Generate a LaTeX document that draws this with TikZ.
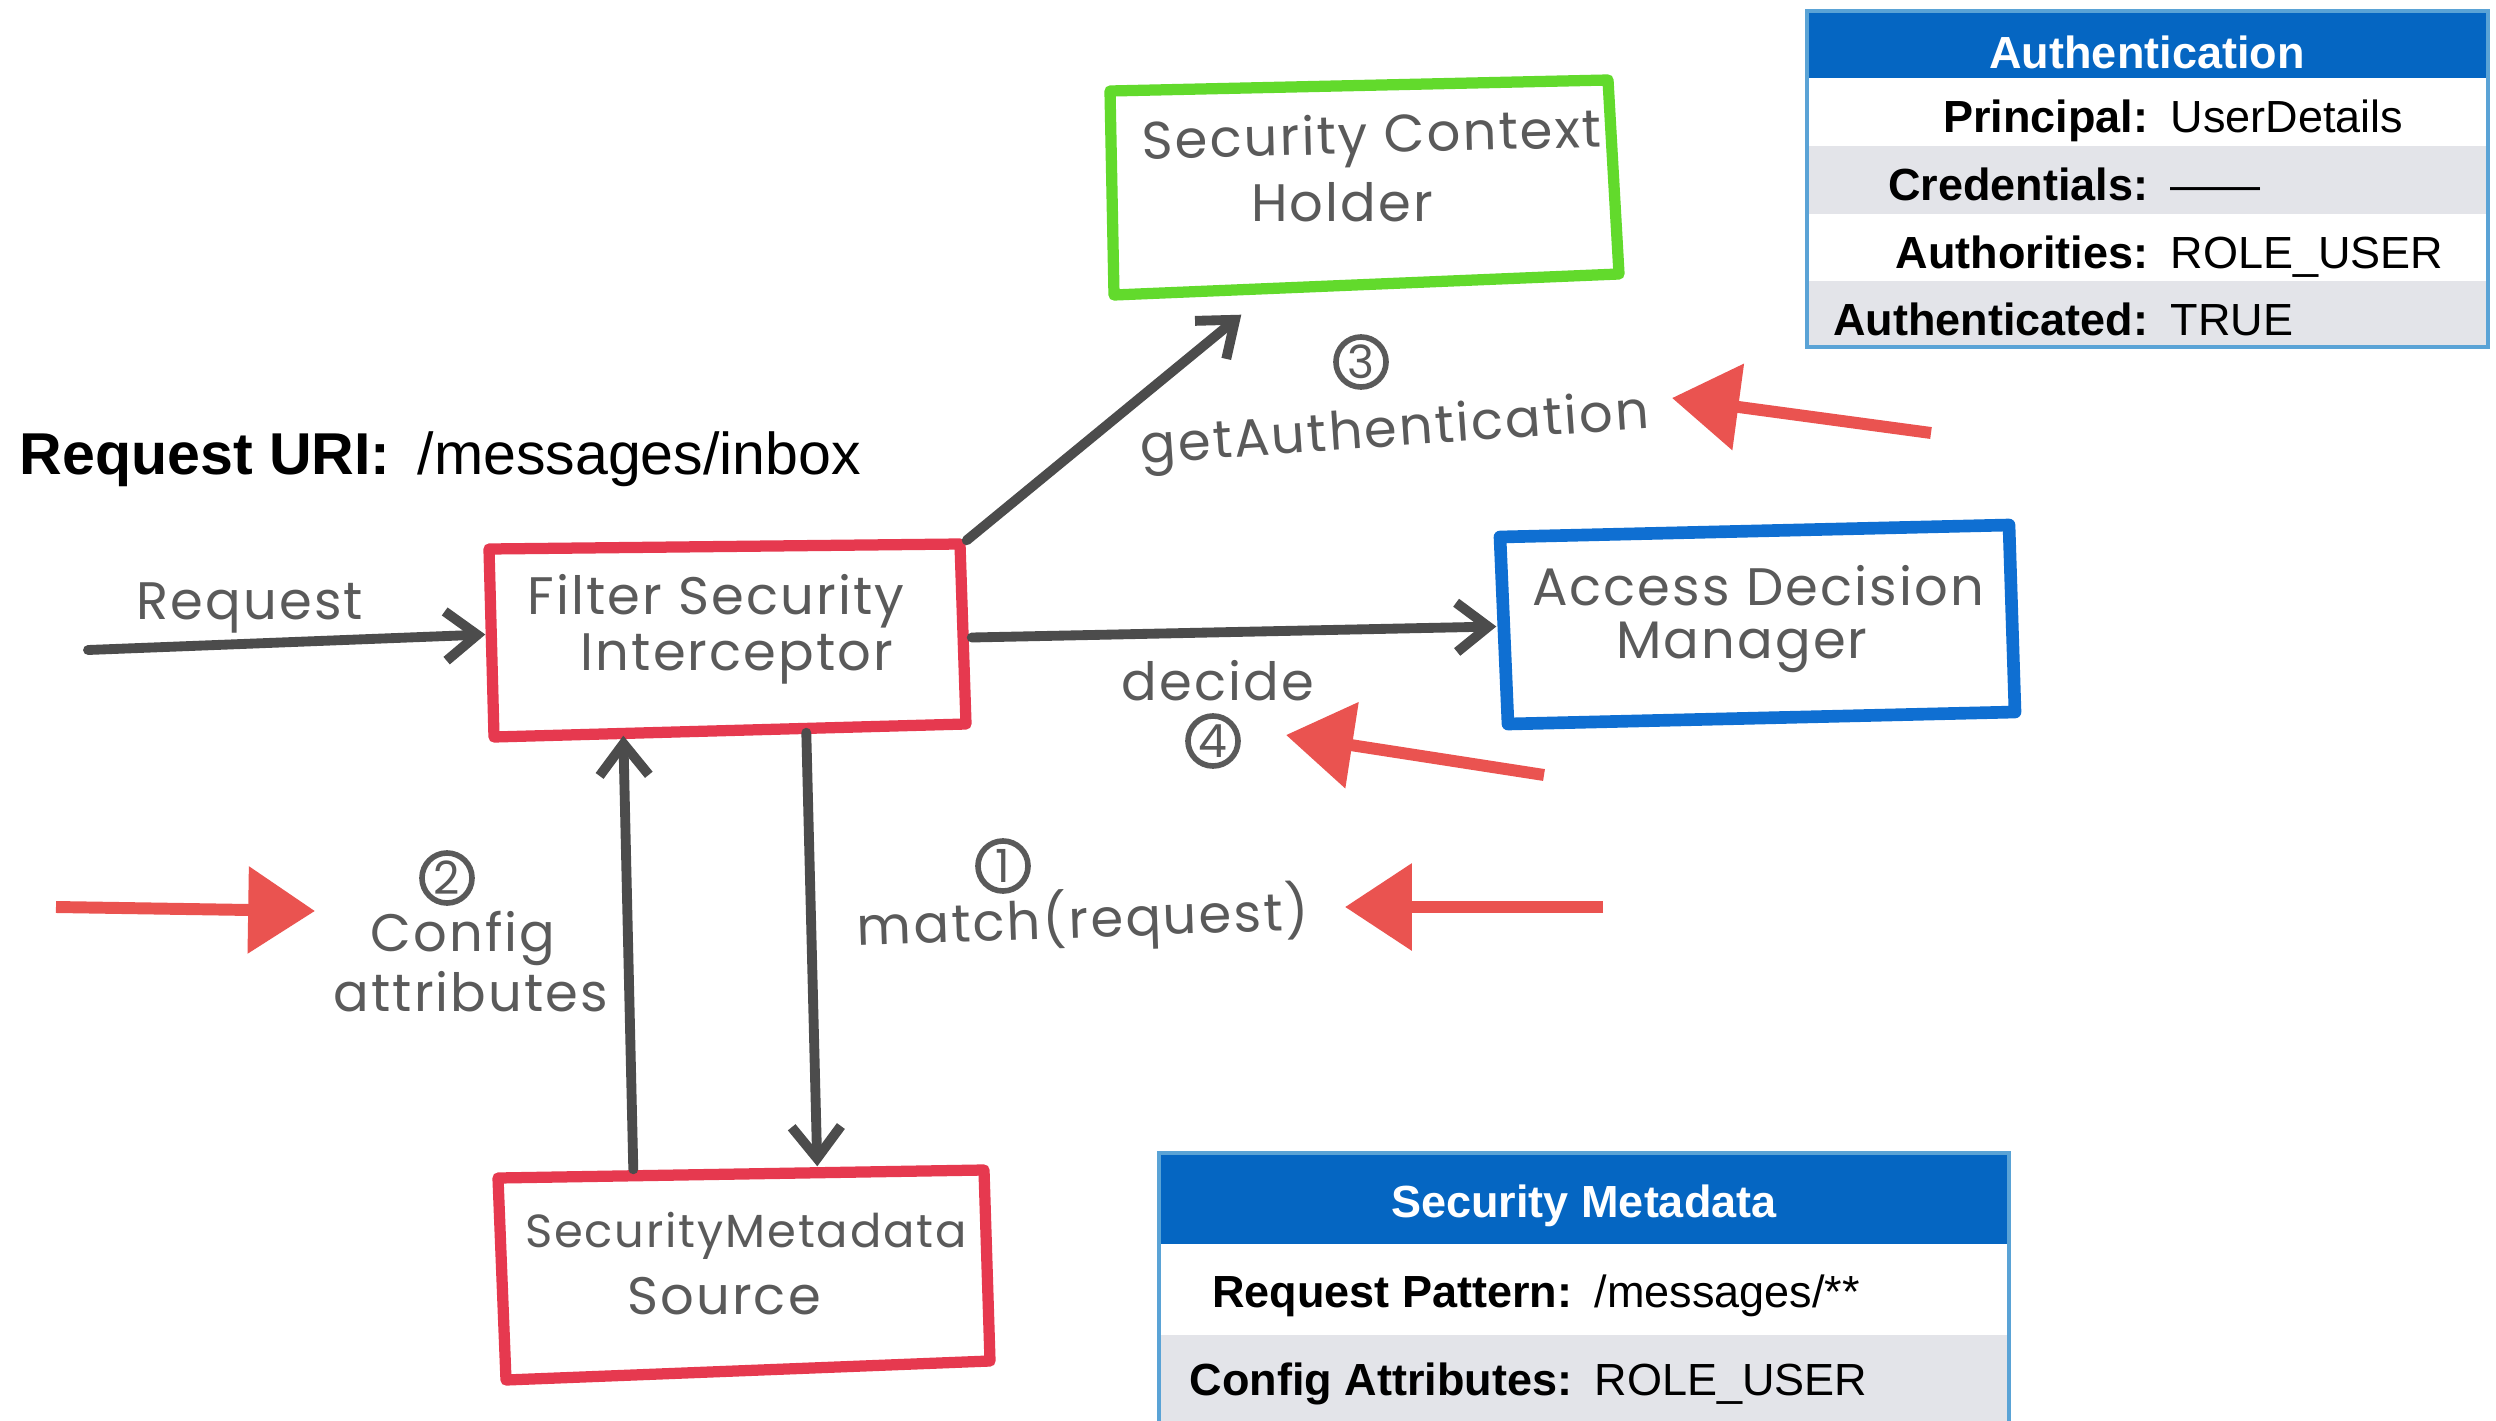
\documentclass[tikz,border=0pt]{standalone}
\usepackage{fontspec}
\setmainfont{Liberation Sans}
\newfontfamily\handfont[LetterSpace=4]{Poppins}
\usetikzlibrary{arrows.meta,calc,fit}

\definecolor{hdrblue}{HTML}{0566C2}
\definecolor{rowgray}{HTML}{E3E4E9}
\definecolor{tblborder}{HTML}{5AA3D6}
\definecolor{pencilgreen}{HTML}{62DA2C}
\definecolor{pencilred}{HTML}{E6394F}
\definecolor{pencilblue}{HTML}{0F6FD2}
\definecolor{markred}{HTML}{EA5350}
\definecolor{arrowgray}{HTML}{4C4C4C}
\definecolor{handgray}{HTML}{5A5A5A}

\tikzset{
  pencil/.style={line width=3.2pt, line join=round, line cap=round},
  garrow/.style={draw=arrowgray, line width=2.8pt, line cap=round,
    -{Straight Barb[length=9pt,width=14pt]}},
  rarrow/.style={draw=markred, line width=3.4pt,
    -{Triangle[length=19pt,width=24pt]}},
  hand/.style={font=\handfont\fontsize{15pt}{18pt}\selectfont, text=handgray, inner sep=0pt},
  handsmall/.style={hand, font=\handfont\fontsize{13.2pt}{16pt}\selectfont},
  num/.style={circle, draw=handgray, line width=1.6pt, minimum size=0.5cm, inner sep=0pt,
    font=\handfont\fontsize{13pt}{13pt}\selectfont, text=handgray},
  lbl/.style={anchor=base east, inner sep=0pt, font=\bfseries\fontsize{12.8pt}{15pt}\selectfont},
  val/.style={anchor=base west, inner sep=0pt, font=\fontsize{12.8pt}{15pt}\selectfont},
  hdr/.style={anchor=base, inner sep=0pt, text=white, font=\bfseries\fontsize{12.8pt}{15pt}\selectfont},
  region/.style={inner sep=0pt, draw=none},
}

\begin{document}
\begin{tikzpicture}[x=0.01cm, y=-0.01cm]
\useasboundingbox (0,0) rectangle (2496,1421);
\fill[white] (0,0) rectangle (2496,1421);

% ---------- Authentication table ----------
\fill[rowgray] (1807,146) rectangle (2488,214);
\fill[rowgray] (1807,281) rectangle (2488,347);
\fill[hdrblue] (1807,11) rectangle (2488,78);
\draw[tblborder, line width=0.9pt] (1807,11) rectangle (2488,347);
\node[hdr] (authhead) at (2147,68) {Authentication};
\node[lbl] (principal) at (2149,133) {Principal:};
\node[val] (principalv) at (2170,133) {UserDetails};
\node[lbl] (credentials) at (2149,200) {Credentials:};
\node[val] (credentialsv) at (2170,200) {——};
\node[lbl] (authorities) at (2149,268) {Authorities:};
\node[val] (authoritiesv) at (2170,268) {ROLE\_USER};
\node[lbl] (authenticated) at (2149,335) {Authenticated:};
\node[val] (authenticatedv) at (2170,335) {TRUE};

% ---------- Security Metadata table ----------
\fill[rowgray] (1159,1335) rectangle (2009,1425);
\fill[hdrblue] (1159,1153) rectangle (2009,1244);
\draw[tblborder, line width=0.9pt] (1159,1425) -- (1159,1153) -- (2009,1153) -- (2009,1425);
\node[hdr] (metahead) at (1584,1217) {Security Metadata};
\node[lbl] (pattern) at (1573,1307) {Request Pattern:};
\node[val] (patternv) at (1594,1307) {/messages/**};
\node[lbl] (config) at (1573,1395) {Config Attributes:};
\node[val] (configv) at (1594,1395) {ROLE\_USER};

% ---------- request URI ----------
\node[anchor=base west, inner sep=0pt, font=\bfseries\fontsize{16.8pt}{20pt}\selectfont]
  (urilbl) at (19,474) {Request URI:};
\node[anchor=base west, inner sep=0pt, font=\fontsize{16.8pt}{20pt}\selectfont]
  (urival) at (417,474) {/messages/inbox};

% ---------- hand-drawn boxes ----------
% SecurityContextHolder
\coordinate (sch-tl) at (1110,91);  \coordinate (sch-tr) at (1608,80);
\coordinate (sch-br) at (1619,274); \coordinate (sch-bl) at (1114,295);
\draw[pencil, pencilgreen] (sch-tl) -- (sch-tr) -- (sch-br) -- (sch-bl) -- cycle;
\node[region, fit=(sch-tl)(sch-tr)(sch-br)(sch-bl)] (sch) {};
\node[hand, rotate=1.5] (schtxt1) at (1372,140) {Security Context};
\node[hand] (schtxt2) at (1342,202) {Holder};

% FilterSecurityInterceptor
\coordinate (fsi-tl) at (489,549);  \coordinate (fsi-tr) at (960,544);
\coordinate (fsi-br) at (966,724);  \coordinate (fsi-bl) at (494,737);
\draw[pencil, pencilred] (fsi-tl) -- (fsi-tr) -- (fsi-br) -- (fsi-bl) -- cycle;
\node[region, fit=(fsi-tl)(fsi-tr)(fsi-br)(fsi-bl)] (fsi) {};
\node[hand] (fsitxt1) at (716,601) {Filter Security};
\node[hand] (fsitxt2) at (737,659) {Interceptor};

% AccessDecisionManager
\coordinate (adm-tl) at (1500,537); \coordinate (adm-tr) at (2009,525);
\coordinate (adm-br) at (2015,712); \coordinate (adm-bl) at (1508,724);
\draw[pencil, pencilblue, line width=3.6pt] (adm-tl) -- (adm-tr) -- (adm-br) -- (adm-bl) -- cycle;
\node[region, fit=(adm-tl)(adm-tr)(adm-br)(adm-bl)] (adm) {};
\node[hand] (admtxt1) at (1758,586) {Access Decision};
\node[hand] (admtxt2) at (1742,647) {Manager};

% SecurityMetadataSource
\coordinate (sms-tl) at (498,1178); \coordinate (sms-tr) at (984,1170);
\coordinate (sms-br) at (990,1361); \coordinate (sms-bl) at (506,1380);
\draw[pencil, pencilred] (sms-tl) -- (sms-tr) -- (sms-br) -- (sms-bl) -- cycle;
\node[region, fit=(sms-tl)(sms-tr)(sms-br)(sms-bl)] (sms) {};
\node[handsmall] (smstxt1) at (746,1236) {SecurityMetadata};
\node[hand] (smstxt2) at (724,1296) {Source};

% ---------- connectors ----------
\coordinate (reqin) at (88,650);
\draw[garrow] (reqin) -- ($(fsi.west)+(-3,-6)$);
\node[hand] (reqtxt) at (250,608) {Request};

\draw[garrow] ($(fsi.north east)+(0,-3)$) -- ($(sch.south west)+(132,19)$);
\draw[garrow] ($(fsi.east)+(5,-3)$) -- ($(adm.west)+(-3,2)$);
\draw[garrow] ($(sms.north west)+(136,0)$) -- ($(fsi.south west)+(135,-2)$);
\draw[garrow] ($(fsi.south west)+(318,-5)$) -- ($(sms.north west)+(320,-3)$);

% ---------- step labels ----------
\node[num] (n3) at (1361,362) {3};
\node[hand, rotate=4] (getauth) at (1395,433) {getAuthentication};
\node[hand] (decide) at (1218,681) {decide};
\node[num] (n4) at (1213,741) {4};
\node[num] (n1) at (1003,866) {1};
\node[hand, rotate=2] (match) at (1083,920) {match(request)};
\node[num] (n2) at (447,878) {2};
\node[hand] (cfg1) at (463,938) {Config};
\node[hand] (cfg2) at (471,992) {attributes};

% ---------- red markers ----------
\coordinate (r1a) at (1931,433); \coordinate (r1b) at (1672,398);
\coordinate (r2a) at (1544,775); \coordinate (r2b) at (1286,735);
\coordinate (r3a) at (1603,907); \coordinate (r3b) at (1345,907);
\coordinate (r4a) at (56,907);   \coordinate (r4b) at (315,911);
\draw[rarrow] (r1a) -- (r1b);
\draw[rarrow] (r2a) -- (r2b);
\draw[rarrow] (r3a) -- (r3b);
\draw[rarrow] (r4a) -- (r4b);
\end{tikzpicture}
\end{document}
